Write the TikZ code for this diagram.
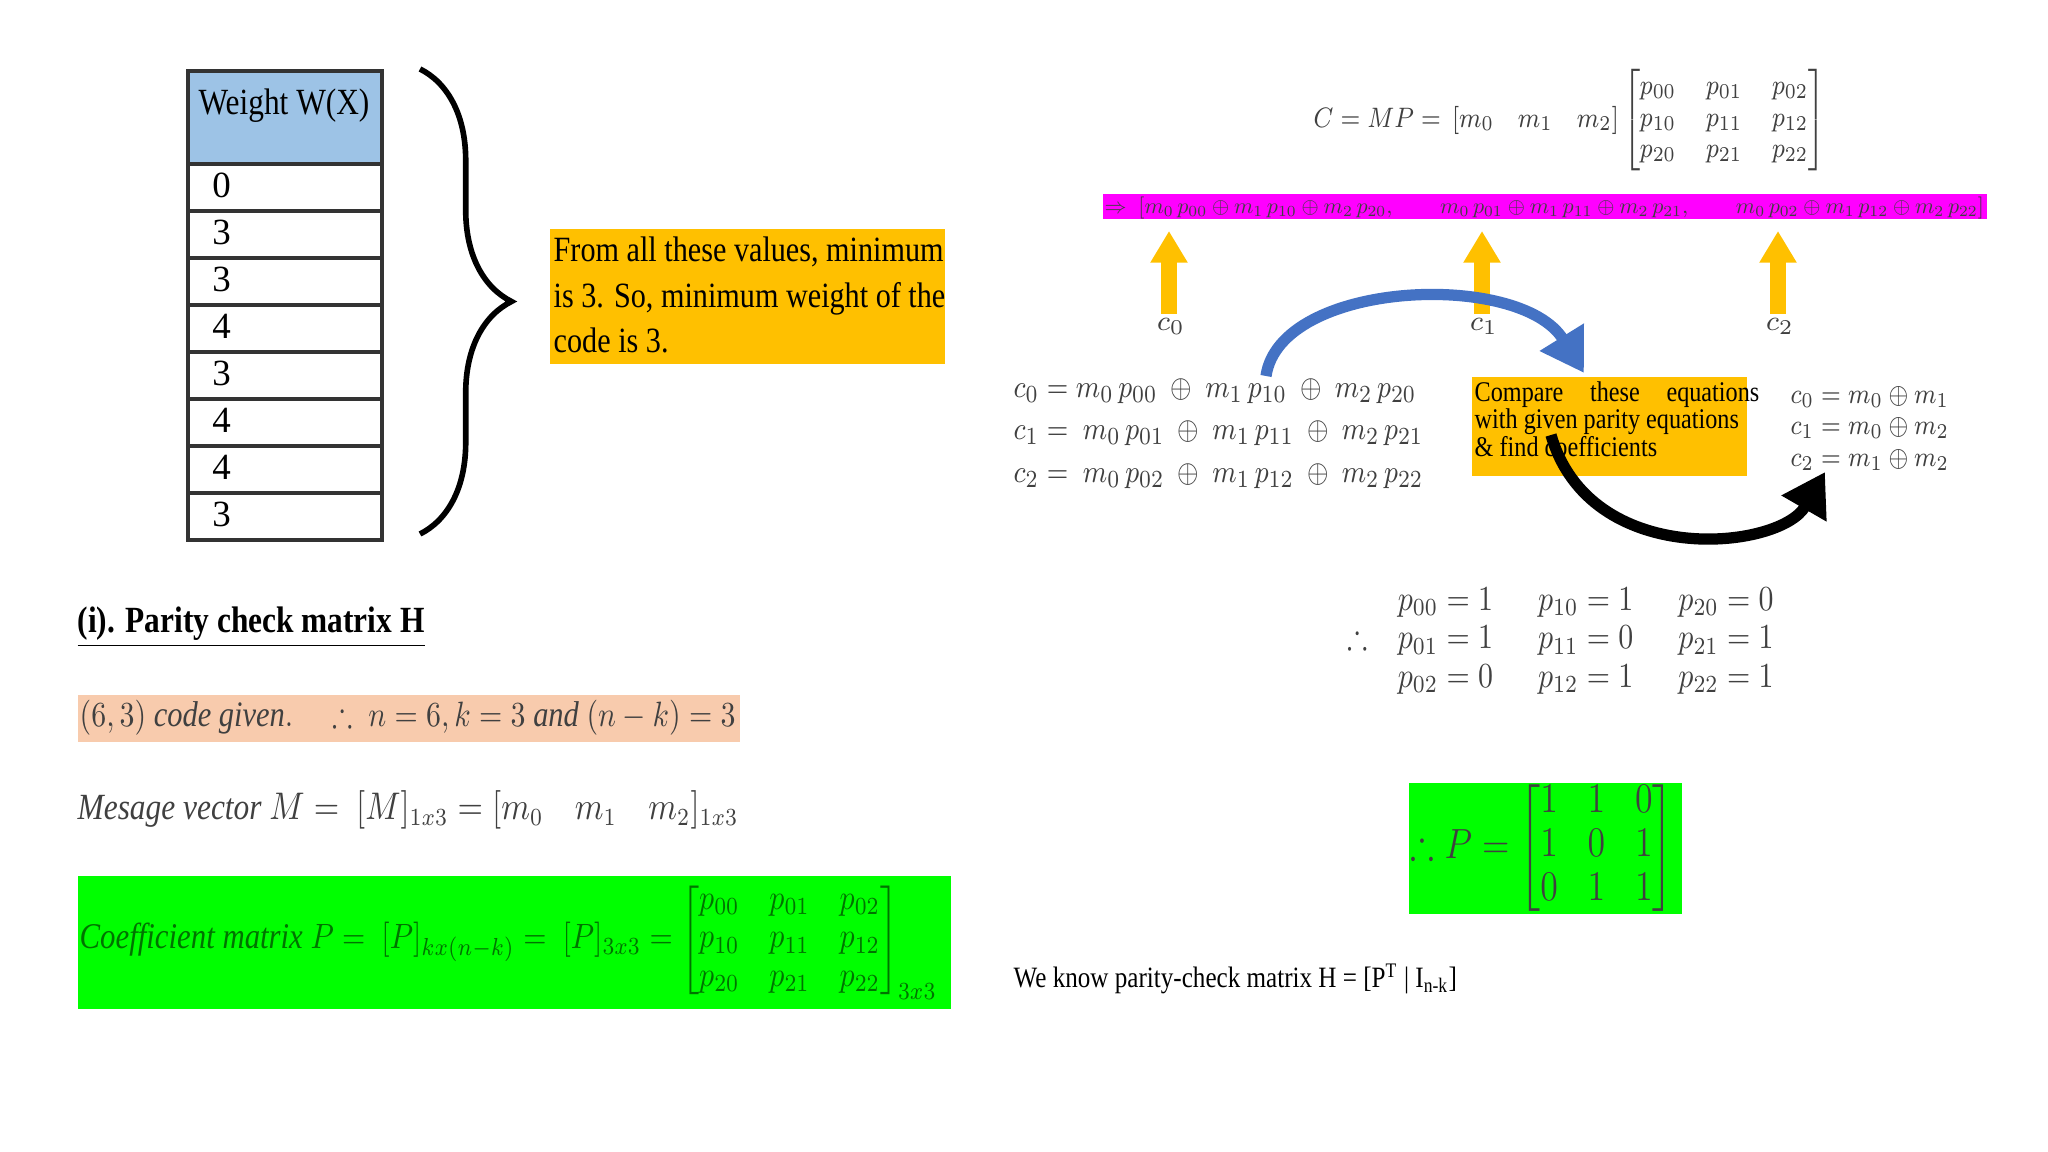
\documentclass[tikz,border=0pt]{standalone}
\usepackage{fontspec}
\usepackage{amsmath,amssymb}
\setmainfont{Liberation Serif}
\usetikzlibrary{arrows.meta,decorations.pathreplacing}
\definecolor{hdrblue}{HTML}{9DC3E6}
\definecolor{gold}{HTML}{FFC000}
\definecolor{peach}{HTML}{F8CBAD}
\definecolor{lime}{HTML}{00FF00}
\definecolor{mag}{HTML}{FF00FF}
\definecolor{arcblue}{HTML}{4472C4}
\definecolor{txtgray}{HTML}{404040}
\newcommand{\cnd}[1]{\scalebox{0.85}[1]{#1}}
\newdimen\pxu \pxu=0.01cm
\tikzset{
  cell/.style={draw=black!80,line width=1.2pt,minimum width=194\pxu,minimum height=47\pxu,anchor=north west,inner sep=0pt},
  celltxt/.style={anchor=west,font=\fontsize{10.5}{12}\selectfont},
  goldarrow/.style={line width=4.5pt,color=gold,-{Triangle[width=10pt,length=9pt]}},
  plain/.style={inner sep=0pt,anchor=west}
}
\begin{document}
\begin{tikzpicture}[x=0.01cm,y=-0.01cm]
\useasboundingbox (0,0) rectangle (2048,1152);
% table
\node[cell,fill=hdrblue,minimum height=93\pxu] (hdr) at (186,69) {};
\node[anchor=north,font=\fontsize{10.5}{12}\selectfont] (hdrt) at (284,76) {\cnd{Weight W(X)}};
\foreach \v [count=\i] in {0,3,3,4,3,4,4,3}{
  \node[cell] (r\i) at (186,{162+(\i-1)*47}) {};
  \node[celltxt] (t\i) at (200,{185.5+(\i-1)*47}) {\v};
}
\draw[line width=1.6pt,decorate,decoration={brace,amplitude=26pt,aspect=0.5}] (420,69) -- (420,534);
\node[fill=gold,minimum width=395\pxu,minimum height=135\pxu,anchor=north west,inner sep=0pt] (ob) at (549,228) {};
\node[anchor=north west,align=left,font=\fontsize{10.1}{13}\selectfont,inner sep=0pt] (obt) at (553,236) {\cnd{From all these values, minimum}\\\cnd{is 3. So, minimum weight of the}\\\cnd{code is 3.}};
% left bottom
\node[plain,font=\bfseries\fontsize{10.5}{14}\selectfont] (head) at (77,627) {\cnd{\underline{(i). Parity check matrix H}}};
\node[fill=peach,minimum width=662\pxu,minimum height=47\pxu,anchor=west,inner sep=0pt] (pb) at (77,718) {};
\node[plain,text=txtgray] (pbt) at (79,718) {\cnd{\fontsize{10.2}{12}\selectfont $(6,3)\ \mathit{code\ given}.\quad \therefore\ n=6,k=3\ \mathit{and}\ (n-k)=3$}};
\node[plain,text=txtgray] (mv) at (77,810) {\cnd{\fontsize{10.5}{12}\selectfont $\mathit{Mesage\ vector}\ M=\ [M]_{1x3}=[m_0\quad m_1\quad m_2]_{1x3}$}};
\node[fill=lime,minimum width=873\pxu,minimum height=133\pxu,anchor=north west,inner sep=0pt] (gb) at (77,875) {};
\node[plain,text=black!55!green] (gbt) at (79,941) {\cnd{\fontsize{10.3}{11}\selectfont $\mathit{Coefficient\ matrix}\ P=\ [P]_{kx(n-k)}=\ [P]_{3x3}=\begin{bmatrix}p_{00}&p_{01}&p_{02}\\p_{10}&p_{11}&p_{12}\\p_{20}&p_{21}&p_{22}\end{bmatrix}_{3x3}$}};
% right
\node[plain,text=txtgray] (cmp) at (1313,120) {\cnd{\fontsize{8}{9}\selectfont $C=MP=\,[m_0\quad m_1\quad m_2]\begin{bmatrix}p_{00}&p_{01}&p_{02}\\p_{10}&p_{11}&p_{12}\\p_{20}&p_{21}&p_{22}\end{bmatrix}$}};
\node[fill=mag,minimum width=884\pxu,minimum height=25\pxu,anchor=west,inner sep=0pt] (mb) at (1102,207) {};
\node[plain,text=black!75] (mbt) at (1104,208) {\resizebox{250pt}{!}{$\Rightarrow\ [m_0\,p_{00}\oplus m_1\,p_{10}\oplus m_2\,p_{20},\qquad m_0\,p_{01}\oplus m_1\,p_{11}\oplus m_2\,p_{21},\qquad m_0\,p_{02}\oplus m_1\,p_{12}\oplus m_2\,p_{22}]$}};
\node[text=txtgray,font=\footnotesize] (c0) at (1171,326) {$c_0$};
\node[text=txtgray,font=\footnotesize] (c1) at (1484,326) {$c_1$};
\node[text=txtgray,font=\footnotesize] (c2) at (1780,326) {$c_2$};
\coordinate (a0) at (1169,231); \coordinate (a1) at (1482,231); \coordinate (a2) at (1778,231);
\coordinate (s0) at (1169,314); \coordinate (s1) at (1482,314); \coordinate (s2) at (1778,314);
\draw[goldarrow] (s0) -- (a0);
\draw[goldarrow] (s1) -- (a1);
\draw[goldarrow] (s2) -- (a2);
\node[anchor=north west,inner sep=0pt,text=txtgray] (leq) at (1013,370) {\cnd{\fontsize{9.4}{11}\selectfont $\begin{aligned}c_0&=m_0\,p_{00}\ \oplus\ m_1\,p_{10}\ \oplus\ m_2\,p_{20}\\[-2pt]c_1&=\ m_0\,p_{01}\ \oplus\ m_1\,p_{11}\ \oplus\ m_2\,p_{21}\\[-2pt]c_2&=\ m_0\,p_{02}\ \oplus\ m_1\,p_{12}\ \oplus\ m_2\,p_{22}\end{aligned}$}};
\node[fill=gold,minimum width=275\pxu,minimum height=99\pxu,anchor=north west,inner sep=0pt] (cb) at (1471,376) {};
\node[anchor=north west,align=left,inner sep=0pt,font=\fontsize{8.1}{8.8}\selectfont] (cbt) at (1474,381) {\cnd{Compare\hspace{1.1em}these\hspace{1.1em}equations}\\[-1pt]\cnd{with given parity equations}\\[-1pt]\cnd{\& find coefficients}};
\node[anchor=north west,inner sep=0pt,text=txtgray] (req) at (1790,378) {\cnd{\fontsize{8.5}{10}\selectfont $\begin{aligned}c_0&=m_0\oplus m_1\\[-4pt]c_1&=m_0\oplus m_2\\[-4pt]c_2&=m_1\oplus m_2\end{aligned}$}};
\coordinate (bs) at (1266,376);
\coordinate (be) at (1584,373);
\draw[arcblue,line width=3.2pt,-{Triangle[width=14pt,length=12pt]}] (bs) .. controls (1280,280) and (1520,270) .. (be);
\coordinate (ks) at (1551,435);
\coordinate (ke) at (1825,472);
\draw[black,line width=3.2pt,-{Triangle[width=14pt,length=12pt]}] (ks) .. controls (1590,570) and (1780,550) .. (ke);
\node[anchor=north west,inner sep=0pt,text=txtgray] (pv) at (1332,580) {\cnd{\fontsize{10.2}{12}\selectfont $\begin{array}{rlll}&p_{00}=1&\ \ p_{10}=1&\ \ p_{20}=0\\[-1pt]\therefore&p_{01}=1&\ \ p_{11}=0&\ \ p_{21}=1\\[-1pt]&p_{02}=0&\ \ p_{12}=1&\ \ p_{22}=1\end{array}$}};
\node[fill=lime,minimum width=273\pxu,minimum height=131\pxu,anchor=north west,inner sep=0pt] (pgb) at (1408,782) {};
\node[plain,text=txtgray] (pgt) at (1410,848) {\cnd{\fontsize{12}{12.5}\selectfont $\therefore P=\begin{bmatrix}1&1&0\\1&0&1\\0&1&1\end{bmatrix}$}};
\node[plain,font=\fontsize{8.4}{11}\selectfont] (wk) at (1013,979) {\cnd{We know parity-check matrix H = [P\textsuperscript{T} | I\textsubscript{n-k}]}};
\end{tikzpicture}
\end{document}
